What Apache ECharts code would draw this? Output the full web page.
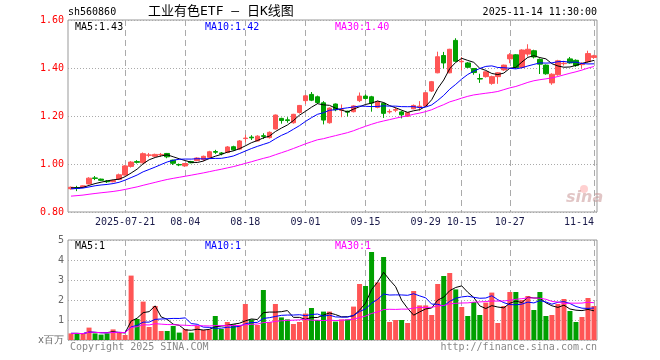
<!DOCTYPE html>
<html><head><meta charset="utf-8">
<script src="https://cdn.jsdelivr.net/npm/echarts@6/dist/echarts.min.js"></script>
<style>html,body{margin:0;padding:0;background:#fff}#c{width:660px;height:360px}</style>
</head><body><div id="c"></div>
<script>
// ---- data ----
const dates = [
'2025-07-08','2025-07-09','2025-07-10','2025-07-11','2025-07-14','2025-07-15','2025-07-16','2025-07-17','2025-07-18',
'2025-07-21','2025-07-22','2025-07-23','2025-07-24','2025-07-25','2025-07-28','2025-07-29','2025-07-30','2025-07-31',
'2025-08-01','2025-08-04','2025-08-05','2025-08-06','2025-08-07','2025-08-08','2025-08-11','2025-08-12','2025-08-13',
'2025-08-14','2025-08-15','2025-08-18','2025-08-19','2025-08-20','2025-08-21','2025-08-22','2025-08-25','2025-08-26',
'2025-08-27','2025-08-28','2025-08-29','2025-09-01','2025-09-02','2025-09-03','2025-09-04','2025-09-05','2025-09-08',
'2025-09-09','2025-09-10','2025-09-11','2025-09-12','2025-09-15','2025-09-16','2025-09-17','2025-09-18','2025-09-19',
'2025-09-22','2025-09-23','2025-09-24','2025-09-25','2025-09-26','2025-09-29','2025-09-30','2025-10-09','2025-10-10',
'2025-10-13','2025-10-14','2025-10-15','2025-10-16','2025-10-17','2025-10-20','2025-10-21','2025-10-22','2025-10-23',
'2025-10-24','2025-10-27','2025-10-28','2025-10-29','2025-10-30','2025-10-31','2025-11-03','2025-11-04','2025-11-05',
'2025-11-06','2025-11-07','2025-11-10','2025-11-11','2025-11-12','2025-11-13','2025-11-14'];
const opens = [
0.897,0.902,0.903,0.917,0.942,0.937,0.929,0.926,0.936,0.954,0.990,1.010,1.005,1.036,1.032,1.038,1.044,1.016,
0.998,0.992,1.010,1.014,1.019,1.028,1.052,1.046,1.048,1.072,1.062,1.106,1.112,1.096,1.118,1.110,1.146,1.190,
1.184,1.172,1.215,1.264,1.290,1.280,1.255,1.172,1.250,1.224,1.220,1.218,1.264,1.283,1.280,1.236,1.253,1.217,
1.224,1.217,1.199,1.230,1.238,1.242,1.304,1.380,1.452,1.380,1.515,1.426,1.421,1.398,1.356,1.364,1.336,1.364,
1.392,1.438,1.455,1.402,1.458,1.472,1.436,1.412,1.338,1.372,1.418,1.438,1.432,1.414,1.426,1.444];
const closes = [
0.903,0.899,0.909,0.941,0.940,0.932,0.926,0.931,0.955,0.992,1.008,1.007,1.043,1.038,1.040,1.040,1.030,1.003,
0.996,1.002,1.005,1.025,1.032,1.051,1.049,1.043,1.071,1.059,1.096,1.108,1.109,1.116,1.115,1.132,1.204,1.181,
1.181,1.207,1.244,1.284,1.266,1.256,1.183,1.233,1.226,1.226,1.216,1.242,1.283,1.273,1.254,1.260,1.211,1.219,
1.227,1.205,1.214,1.244,1.241,1.297,1.343,1.447,1.421,1.478,1.428,1.428,1.403,1.381,1.354,1.384,1.364,1.380,
1.412,1.455,1.402,1.475,1.478,1.446,1.416,1.376,1.374,1.430,1.420,1.421,1.410,1.416,1.460,1.451];
const lows = [
0.893,0.887,0.900,0.915,0.933,0.929,0.921,0.924,0.933,0.952,0.985,1.002,1.003,1.028,1.030,1.030,1.024,0.996,
0.991,0.988,1.003,1.012,1.012,1.025,1.042,1.036,1.045,1.055,1.058,1.090,1.100,1.094,1.104,1.106,1.144,1.168,
1.172,1.168,1.210,1.250,1.262,1.250,1.165,1.168,1.220,1.195,1.198,1.215,1.258,1.268,1.218,1.232,1.192,1.210,
1.216,1.190,1.197,1.228,1.222,1.240,1.300,1.378,1.398,1.378,1.425,1.390,1.400,1.372,1.338,1.360,1.330,1.334,
1.388,1.420,1.398,1.400,1.448,1.440,1.375,1.372,1.330,1.368,1.410,1.418,1.405,1.398,1.422,1.438];
const highs = [
0.906,0.909,0.911,0.945,0.950,0.939,0.933,0.934,0.960,0.995,1.012,1.016,1.048,1.046,1.043,1.046,1.046,1.018,
1.002,1.004,1.013,1.028,1.035,1.055,1.059,1.050,1.075,1.076,1.100,1.122,1.120,1.120,1.128,1.136,1.206,1.193,
1.195,1.209,1.246,1.288,1.300,1.285,1.262,1.236,1.252,1.248,1.222,1.245,1.298,1.290,1.284,1.264,1.256,1.228,
1.236,1.222,1.216,1.248,1.262,1.300,1.346,1.468,1.467,1.480,1.524,1.446,1.425,1.400,1.376,1.386,1.368,1.383,
1.414,1.462,1.458,1.478,1.499,1.476,1.440,1.415,1.378,1.434,1.430,1.446,1.436,1.424,1.472,1.455];
// volume, millions of shares
const volumes = [
0.33,0.33,0.30,0.62,0.33,0.27,0.33,0.53,0.40,0.25,3.22,1.05,1.92,0.65,1.70,0.45,0.45,0.70,
0.37,0.55,0.37,0.70,0.50,0.53,1.20,0.55,0.90,0.78,0.75,1.80,1.03,0.75,2.50,0.90,1.80,1.13,
1.03,0.80,0.90,1.32,1.60,1.00,1.42,1.42,0.92,1.03,1.03,1.67,2.80,2.70,4.40,2.88,4.15,0.90,
1.00,1.00,0.85,2.45,1.73,1.73,1.25,2.80,3.20,3.35,2.53,1.65,1.20,1.90,1.25,1.87,2.37,0.85,
1.70,2.40,2.40,2.00,2.20,1.50,2.40,1.20,1.25,1.80,2.05,1.45,0.90,1.15,2.10,1.70];
// closes before the first visible day (estimated from where the MA lines start)
const priorCloses = [
0.836,0.840,0.838,0.845,0.842,0.848,0.844,0.846,0.849,0.845,0.850,0.848,0.853,0.856,0.852,
0.858,0.862,0.865,0.870,0.872,0.885,0.890,0.895,0.892,0.898,0.903,0.897,0.900,0.902];
const tickDates  = ['2025-07-21','2025-08-04','2025-08-18','2025-09-01','2025-09-15','2025-09-29','2025-10-15','2025-10-27','2025-11-14'];
const tickLabels = ['2025-07-21','08-04','08-18','09-01','09-15','09-29','10-15','10-27','11-14'];
const maPeriods = [5, 10, 30];
const priceLegend = ['MA5:1.43', 'MA10:1.42', 'MA30:1.40'];
const volLegend = ['MA5:1', 'MA10:1', 'MA30:1'];
const priceAxis = {min: 0.8, max: 1.6, step: 0.2};
const volAxis = {min: 0, max: 5, step: 1};

// ---- derived ----
const UP = '#ff5555', DOWN = '#00a000', GRIDC = '#aaaaaa';
const MACOL = ['#000000', '#0000ff', '#ff00ff'];
const mono = 'DejaVu Sans Mono, Liberation Mono, monospace';
const kData = dates.map((d, i) => [opens[i], closes[i], lows[i], highs[i]]);
const allCloses = priorCloses.concat(closes);
function priceMA(n) {
  const off = priorCloses.length;
  return closes.map((c, i) => {
    let s = 0; for (let k = 0; k < n; k++) s += allCloses[off + i - k];
    return +(s / n).toFixed(4);
  });
}
function volMA(n) {
  return volumes.map((v, i) => {
    const m = Math.min(n, i + 1); let s = 0;
    for (let k = 0; k < m; k++) s += volumes[i - k];
    return +(s / m).toFixed(4);
  });
}
const tickSet = new Set(tickDates);
const isTick = (idx, val) => tickSet.has(val);

const chart = echarts.init(document.getElementById('c'), null, {renderer: 'canvas'});
const xBase = (gi, showLabel) => ({
  type: 'category', data: dates, gridIndex: gi, boundaryGap: true,
  axisLine: {show: false}, axisTick: {show: false},
  axisLabel: showLabel ? {
    show: true, interval: isTick, color: '#1a1a4a', fontFamily: mono, fontSize: 10, margin: 5,
    formatter: v => tickLabels[tickDates.indexOf(v)], alignMaxLabel: 'right'
  } : {show: false},
  splitLine: {show: true, interval: isTick, alignWithLabel: true, lineStyle: {color: GRIDC, type: [6, 4], width: 1}}
});
const series = [{
  type: 'candlestick', xAxisIndex: 0, yAxisIndex: 0, data: kData, barWidth: 5,
  itemStyle: {color: UP, color0: DOWN, borderColor: UP, borderColor0: DOWN, borderWidth: 1}
}];
maPeriods.forEach((n, k) => series.push({
  type: 'line', xAxisIndex: 0, yAxisIndex: 0, data: priceMA(n), symbol: 'none', silent: true,
  lineStyle: {width: 1, color: MACOL[k]}, z: 3
}));
series.push({
  type: 'bar', xAxisIndex: 1, yAxisIndex: 1, barWidth: 5,
  data: volumes.map((v, i) => ({value: v, itemStyle: {color: closes[i] >= opens[i] ? UP : DOWN}}))
});
maPeriods.forEach((n, k) => series.push({
  type: 'line', xAxisIndex: 1, yAxisIndex: 1, data: volMA(n), symbol: 'none', silent: true,
  lineStyle: {width: 1, color: MACOL[k]}, z: 3
}));

const legendX = [75, 205, 335];
const graphic = [
  {type: 'text', left: 68, top: 7, style: {text: 'sh560860', font: '10px ' + mono, fill: '#000'}},
  {type: 'text', left: 148, top: 5, style: {text: '工业有色ETF — 日K线图', font: '13px DejaVu Sans Mono, Noto Sans CJK SC', fill: '#000'}},
  {type: 'text', right: 63, top: 7, style: {text: '2025-11-14 11:30:00', font: '10px ' + mono, fill: '#000'}},
  {type: 'text', left: 70, top: 342, style: {text: 'Copyright 2025 SINA.COM', font: '10px ' + mono, fill: '#888'}},
  {type: 'text', right: 63, top: 342, style: {text: 'http://finance.sina.com.cn', font: '10px ' + mono, fill: '#888'}},
  {type: 'text', left: 566, top: 190, style: {text: 'sina', font: 'italic bold 16px DejaVu Sans', fill: 'rgba(200,150,150,0.55)'}},
  {type: 'circle', shape: {cx: 584, cy: 189, r: 4}, style: {fill: 'rgba(255,120,120,0.35)'}}
];
priceLegend.forEach((t, k) => graphic.push({type: 'text', left: legendX[k], top: 22, style: {text: t, font: '10px ' + mono, fill: MACOL[k]}}));
volLegend.forEach((t, k) => graphic.push({type: 'text', left: legendX[k], top: 241, style: {text: t, font: '10px ' + mono, fill: MACOL[k]}}));

chart.setOption({
  animation: false,
  backgroundColor: '#fff',
  grid: [
    {left: 68, top: 20, width: 529, height: 192, show: true, borderColor: '#999', borderWidth: 1, backgroundColor: 'transparent'},
    {left: 68, top: 240, width: 529, height: 100, show: true, borderColor: '#999', borderWidth: 1, backgroundColor: 'transparent'}
  ],
  xAxis: [xBase(0, true), xBase(1, false)],
  yAxis: [
    {type: 'value', gridIndex: 0, min: priceAxis.min, max: priceAxis.max, interval: priceAxis.step, scale: false,
     axisLine: {show: false}, axisTick: {show: false},
     axisLabel: {color: '#ff0000', fontFamily: mono, fontSize: 10, margin: 4, formatter: v => v.toFixed(2)},
     splitLine: {show: true, lineStyle: {color: GRIDC, type: [1, 2], width: 1}}},
    {type: 'value', gridIndex: 1, min: volAxis.min, max: volAxis.max, interval: volAxis.step,
     axisLine: {show: false}, axisTick: {show: false},
     axisLabel: {color: '#666', fontFamily: mono, fontSize: 10, margin: 4, formatter: v => v === 0 ? 'x百万' : String(v)},
     splitLine: {show: true, lineStyle: {color: GRIDC, type: [1, 2], width: 1}}}
  ],
  series: series,
  graphic: graphic
});
</script></body></html>
